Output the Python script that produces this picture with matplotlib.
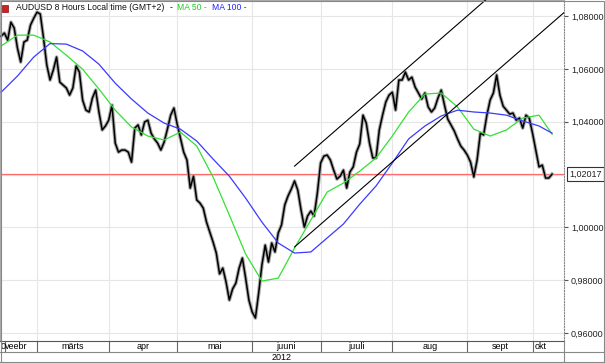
import numpy as np
import pandas as pd
import matplotlib
matplotlib.use("Agg")
import matplotlib.pyplot as plt
from matplotlib.transforms import blended_transform_factory
from matplotlib.lines import Line2D
from matplotlib.patches import Rectangle

plt.rcParams['font.family'] = ['Liberation Sans', 'DejaVu Sans']

# AUDUSD closes, one per trading day starting 15 Feb 2012
close = [
    1.0724, 1.0736, 1.0709, 1.0777, 1.0755, 1.0679, 1.0626, 1.0702, 1.0709, 1.0766,
    1.0792, 1.0815, 1.0808, 1.0717, 1.0615, 1.0558, 1.0596, 1.0645, 1.0550, 1.0539,
    1.0528, 1.0501, 1.0528, 1.0611, 1.0588, 1.0482, 1.0444, 1.0437, 1.0490, 1.0520,
    1.0437, 1.0369, 1.0384, 1.0406, 1.0463, 1.0319, 1.0285, 1.0293, 1.0293, 1.0285,
    1.0247, 1.0376, 1.0388, 1.0350, 1.0399, 1.0406, 1.0357, 1.0335, 1.0319, 1.0293,
    1.0323, 1.0372, 1.0425, 1.0452, 1.0391, 1.0338, 1.0285, 1.0255, 1.0149, 1.0194,
    1.0104, 1.0092, 1.0073, 1.0020, 0.9982, 0.9945, 0.9903, 0.9824, 0.9846, 0.9793,
    0.9725, 0.9767, 0.9789, 0.9846, 0.9884, 0.9808, 0.9725, 0.9680, 0.9657, 0.9752,
    0.9858, 0.9933, 0.9869, 0.9941, 0.9907, 0.9979, 1.0009, 1.0085, 1.0119, 1.0145,
    1.0176, 1.0141, 1.0066, 1.0001, 1.0043, 1.0062, 1.0043, 1.0130, 1.0244, 1.0270,
    1.0274, 1.0255, 1.0217, 1.0183, 1.0194, 1.0217, 1.0149, 1.0210, 1.0229, 1.0285,
    1.0316, 1.0425, 1.0395, 1.0319, 1.0263, 1.0263, 1.0369, 1.0425, 1.0475, 1.0501,
    1.0512, 1.0444, 1.0558, 1.0558, 1.0588, 1.0558, 1.0569, 1.0531, 1.0509, 1.0486,
    1.0509, 1.0456, 1.0437, 1.0452, 1.0490, 1.0520, 1.0463, 1.0410, 1.0388, 1.0365,
    1.0335, 1.0308, 1.0293, 1.0274, 1.0247, 1.0191, 1.0255, 1.0357, 1.0350, 1.0425,
    1.0482, 1.0509, 1.0577, 1.0501, 1.0459, 1.0444, 1.0429, 1.0433, 1.0406, 1.0414,
    1.0376, 1.0425, 1.0414, 1.0357, 1.0293, 1.0229, 1.0236, 1.0187, 1.0187, 1.02017,
]

# moving averages, read every 5th trading day
ma_idx = list(range(0, 170, 5)) + [169]
ma50 = [1.0687, 1.0728, 1.0728, 1.0702, 1.0652, 1.0599, 1.0524, 1.0444, 1.0380, 1.0346,
        1.0331, 1.0361, 1.0308, 1.0191, 1.0047, 0.9899, 0.9797, 0.9808, 0.9922, 1.0028,
        1.0134, 1.0168, 1.0213, 1.0263, 1.0346, 1.0437, 1.0505, 1.0509, 1.0456, 1.0372,
        1.0346, 1.0369, 1.0414, 1.0425, 1.0353]
ma100 = [1.0512, 1.0573, 1.0645, 1.0696, 1.0694, 1.0668, 1.0618, 1.0546, 1.0486, 1.0433,
         1.0395, 1.0372, 1.0327, 1.0259, 1.0194, 1.0111, 1.0020, 0.9941, 0.9903, 0.9907,
         0.9960, 1.0013, 1.0088, 1.0157, 1.0244, 1.0335, 1.0384, 1.0422, 1.0444, 1.0437,
         1.0433, 1.0425, 1.0403, 1.0384, 1.0357]

last_price = 1.02017

# trend channel drawn on the chart (trading-day index, price)
channel_x = [90, 173]
channel_low = [0.9926, 1.0817]
channel_high = [1.0232, 1.1123]

grid_levels = [0.96, 0.98, 1.00, 1.02, 1.04, 1.06, 1.08]
yticks = [0.96, 0.98, 1.00, 1.04, 1.06, 1.08]
month_names = {3: 'märts', 4: 'apr', 5: 'mai', 6: 'juuni', 7: 'juuli',
               8: 'aug', 9: 'sept', 10: 'okt'}

days = pd.bdate_range('2012-02-15', '2012-10-31')
x = np.arange(len(close))
month_starts = [i for i in range(1, len(days)) if days[i].month != days[i - 1].month]

fig = plt.figure(figsize=(6.05, 3.63), dpi=100)
ax = fig.add_axes([0, 22 / 363, 564 / 605, 341 / 363])
x0, x1 = -0.35, 172.66
ax.set_xlim(x0, x1)
ax.set_ylim(0.9570, 1.0861)

# grid
for g in grid_levels:
    ax.axhline(g, color='#e6e6e6', lw=0.8, zorder=0)
for b in month_starts:
    if b < x1:
        ax.axvline(b, color='#e6e6e6', lw=0.8, zorder=0)

# price
ax.plot(x, close, color='#a8a8a8', lw=2.6, zorder=2)
ax.plot(x, close, color='black', lw=1.1, zorder=3)

# moving averages
ax.plot(ma_idx, ma50, color='#33e033', lw=0.9, zorder=4)
ax.plot(ma_idx, ma100, color='#3a3aff', lw=0.9, zorder=4)

# channel
ax.plot(channel_x, channel_low, color='black', lw=0.8, zorder=5)
ax.plot(channel_x, channel_high, color='black', lw=0.8, zorder=5)

ax.axhline(last_price, color='#ff6b6b', lw=0.9, zorder=1)

# right price axis
ax.yaxis.tick_right()
ax.set_yticks(yticks)
ax.set_yticklabels([f"{v:.5f}".replace('.', ',') for v in yticks])
ax.tick_params(axis='y', length=3, color='#555555', labelsize=6.5, pad=2, labelcolor='#222222')
ax.set_xticks([])
for s in ['left', 'top']:
    ax.spines[s].set_color('#aaaaaa')
    ax.spines[s].set_linewidth(0.8)
ax.spines['bottom'].set_color('#555555')
ax.spines['right'].set_color('#888888')
ax.spines['right'].set_linestyle((0, (1, 1.5)))

bt = blended_transform_factory(ax.transAxes, ax.transData)
ax.text(1 + 5 / 564, last_price, f"{last_price:.5f}".replace('.', ','),
        transform=bt, fontsize=6.5, va='center', ha='left', color='#222222',
        bbox=dict(boxstyle='square,pad=0.25', fc='white', ec='#333333', lw=0.8))

# time axis strip
tr = blended_transform_factory(ax.transData, ax.transAxes)
row = 11 / 341
cells = [1.2] + [b for b in month_starts if b < x1]
for b in cells:
    ax.plot([b, b], [0, -row], transform=tr, color='#666666', lw=0.8, clip_on=False)
ax.text(x0 + 0.1, -row / 2, '0', transform=tr, fontsize=6.5, va='center', ha='left')
ax.text(1.3, -row / 2, 'veebr', transform=tr, fontsize=6.5, va='center', ha='left')
edges = cells[1:] + [x1]
for a, b in zip(cells[1:], edges[1:]):
    name = month_names[days[a].month]
    if name == 'okt':
        ax.text(a + 0.6, -row / 2, name, transform=tr, fontsize=6.5, va='center', ha='left')
    else:
        ax.text((a + b) / 2, -row / 2, name, transform=tr, fontsize=6.5, va='center', ha='center')
ax.text((x0 + x1) / 2, -1.5 * row, '2012', transform=tr, fontsize=6.5, va='center', ha='center')

for y in [11 / 363, 1.5 / 363]:
    fig.add_artist(Line2D([0, 1], [y, y], transform=fig.transFigure, color='#888888', lw=0.8))
fig.add_artist(Line2D([564 / 605, 564 / 605], [0, 22 / 363], transform=fig.transFigure,
                      color='#888888', lw=0.8))
fig.add_artist(Rectangle((0.5 / 605, 0.5 / 363), 603.5 / 605, 362 / 363, transform=fig.transFigure,
                         fill=False, ec='#888888', lw=0.8))

# title, pieces placed one after another
ty = 1 - 8 / 363
fig.add_artist(Rectangle((2 / 605, 1 - 12 / 363), 6 / 605, 7 / 363, transform=fig.transFigure,
                         fc='#cc2222', ec='#881111', lw=0.5))
pieces = [('AUDUSD 8 Hours Local time (GMT+2)', '#111111'), ('-', '#111111'),
          ('MA 50 -', '#22cc22'), ('MA 100 -', '#2222ff')]
renderer = fig.canvas.get_renderer()
px = 16
for txt, col in pieces:
    t = fig.text(px / 605, ty, txt, fontsize=6.2, va='center', color=col)
    px = t.get_window_extent(renderer).x1 + 5

fig.savefig('out.png', dpi=100)
